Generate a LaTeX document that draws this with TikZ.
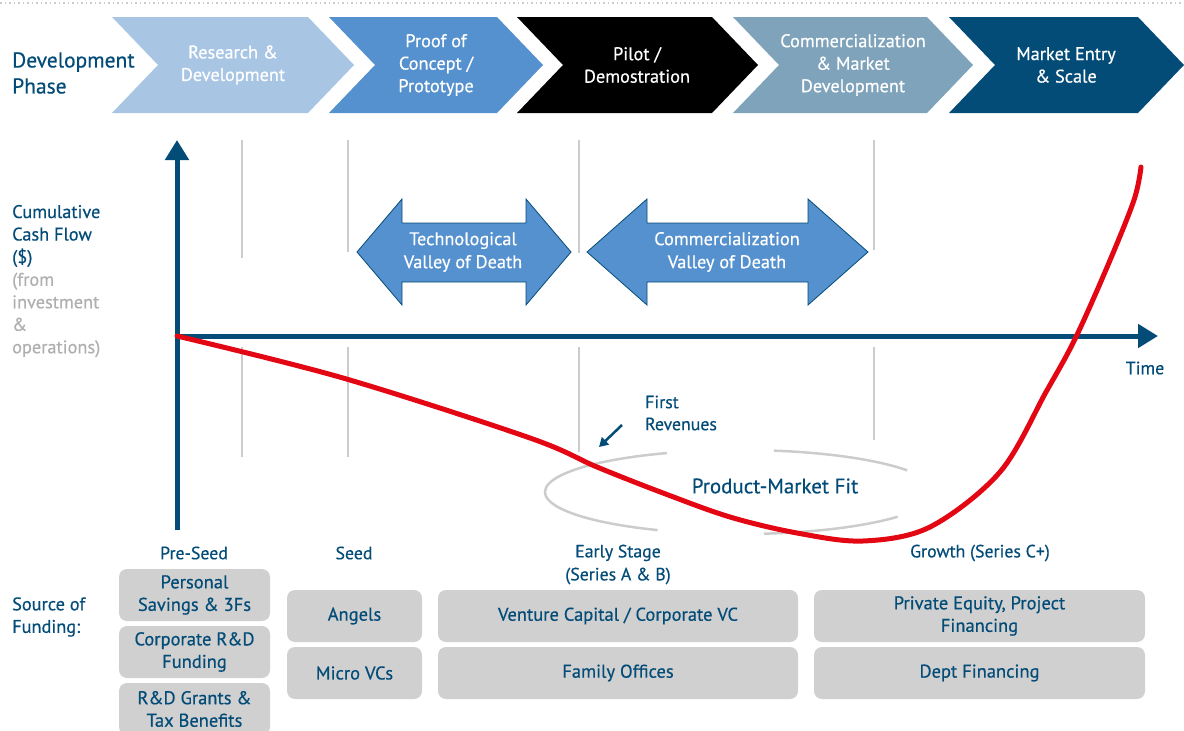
\documentclass[tikz,border=0pt]{standalone}
\usepackage{fontspec}
\setmainfont{PT Sans}[FakeBold=0.5]
\usetikzlibrary{arrows.meta}

\definecolor{navy}{RGB}{4,76,120}
\definecolor{phaseA}{RGB}{168,198,228}
\definecolor{phaseB}{RGB}{85,145,206}
\definecolor{phaseD}{RGB}{127,163,187}
\definecolor{phaseE}{RGB}{4,76,120}
\definecolor{guide}{RGB}{204,204,204}
\definecolor{boxfill}{RGB}{208,208,208}
\definecolor{softtext}{RGB}{175,175,175}
\definecolor{curvered}{RGB}{227,6,19}

\newcommand\chev[3]{%
  \fill[#3] (#1,-17) -- (#2,-17) -- ({#2+46},-65) -- (#2,-113) -- (#1,-113) -- ({#1+46},-65) -- cycle;}

\tikzset{
  phasetext/.style={text=white, align=center, inner sep=0pt,
    font=\fontsize{18.3}{22.5}\selectfont},
  sidelabel/.style={text=navy, align=left, inner sep=0pt, anchor=west,
    font=\fontsize{18.3}{22.5}\selectfont},
  axisline/.style={navy, line width=5pt, -{Triangle[length=20pt,width=23pt]}},
  guideline/.style={guide, line width=2.5pt},
  valley/.style={fill=phaseB, draw=navy, line width=0.8pt, line join=miter},
  valleytext/.style={text=white, align=center, inner sep=0pt,
    font=\fontsize{18.3}{23}\selectfont},
  stagehead/.style={text=navy, align=center, inner sep=0pt,
    font=\fontsize{17.8}{23}\selectfont},
  fundbox/.style={fill=boxfill, rounded corners=8pt, text=navy, align=center,
    inner sep=0pt, font=\fontsize{18.5}{22.5}\selectfont, minimum height=52pt},
  pmfring/.style={guide, line width=2.5pt}
}

\begin{document}
\begin{tikzpicture}[x=1pt,y=1pt]
\useasboundingbox (0,0) rectangle (1184,-731);

% dotted rule along the top
\draw[guide, line width=1.5pt, dash pattern=on 1.5pt off 3pt] (0,-3) -- (1184,-3);

% development phase chevrons
\chev{112}{308}{phaseA}
\chev{329}{497}{phaseB}
\chev{517}{712}{black}
\chev{733}{927}{phaseD}
\chev{949}{1138}{phaseE}
\node[phasetext] (ph1) at (233,-65) {Research \&\\Development};
\node[phasetext] (ph2) at (436,-65) {Proof of\\Concept /\\Prototype};
\node[phasetext] (ph3) at (637,-65) {Pilot /\\Demostration};
\node[phasetext] (ph4) at (853,-65) {Commercialization\\\& Market\\Development};
\node[phasetext] (ph5) at (1066,-65) {Market Entry\\\& Scale};

% row labels
\node[sidelabel, font=\fontsize{21.5}{26}\selectfont] (devphase) at (12,-73) {Development\\Phase};
\node[sidelabel] (cashflow) at (12,-236) {Cumulative\\Cash Flow\\(\$)};
\node[sidelabel, text=softtext] (cashnote) at (12,-315) {(from\\investment\\\&\\operations)};
\node[sidelabel] (source) at (12,-617) {Source of\\Funding:};

% stage guide lines
\foreach \gx/\ta/\tb in {242/258/457, 348/252/457, 579/253/452, 874/250/440}{
  \draw[guideline] (\gx,-140) -- (\gx,-\ta);
  \draw[guideline] (\gx,-347) -- (\gx,-\tb);
}

% axes
\coordinate (origin) at (177,-336);
\coordinate (ybase) at (177,-530);
\coordinate (ytip) at (177,-140);
\coordinate (xtip) at (1158,-336);
\draw[axisline] (ybase) -- (ytip);
\draw[axisline] (origin) -- (xtip);
\node[text=navy, font=\fontsize{18}{20}\selectfont, inner sep=0pt] (time) at (1145,-368) {Time};

% valleys of death
\draw[valley] (357,-252) -- (402,-199) -- (402,-223) -- (526,-223) -- (526,-199)
  -- (571,-252) -- (526,-305) -- (526,-282) -- (402,-282) -- (402,-305) -- cycle;
\node[valleytext] (techvalley) at (463,-252) {Technological\\Valley of Death};
\draw[valley] (587,-252) -- (647,-199) -- (647,-223) -- (808,-223) -- (808,-199)
  -- (868,-252) -- (808,-305) -- (808,-282) -- (647,-282) -- (647,-305) -- cycle;
\node[valleytext] (commvalley) at (727,-252) {Commercialization\\Valley of Death};

% product-market fit ring, open where the label sits
\draw[pmfring] (740,-492) ++(31:195 and 42) arc[start angle=31, end angle=80, x radius=195, y radius=42];
\draw[pmfring] (740,-492) ++(112:195 and 42) arc[start angle=112, end angle=245, x radius=195, y radius=42];
\draw[pmfring] (740,-492) ++(277:195 and 42) arc[start angle=277, end angle=324, x radius=195, y radius=42];
\node[text=navy, font=\fontsize{21}{22}\selectfont, inner sep=0pt] (pmf) at (775,-486) {Product-Market Fit};

% cumulative cash flow curve
\draw[curvered, line width=5pt, line cap=round, line join=round]
  plot[smooth, tension=0.55] coordinates {(177,-336) (343,-378) (530,-438) (597,-467)
  (663,-493) (730,-517) (797,-533) (863,-541) (930,-527) (1000,-472) (1046,-392)
  (1075,-339) (1108,-265) (1134,-200) (1141,-167)};

% first revenues marker
\node[text=navy, align=left, anchor=west, inner sep=0pt,
  font=\fontsize{17.8}{22}\selectfont] (firstrev) at (645,-413) {First\\Revenues};
\coordinate (frtail) at (622,-425);
\coordinate (frhead) at (599,-447);
\draw[navy, line width=2.5pt, -{Triangle[length=9pt,width=10pt]}] (frtail) -- (frhead);

% funding stages
\node[stagehead] (preseed) at (194,-553) {Pre-Seed};
\node[stagehead] (seed) at (354,-553) {Seed};
\node[stagehead] (early) at (618,-564.5) {Early Stage\\(Series A \& B)};
\node[stagehead] (growth) at (980,-553) {Growth (Series C+)};

\node[fundbox, minimum width=151pt] (savings) at (194.5,-595) {Personal\\Savings \& 3Fs};
\node[fundbox, minimum width=151pt] (corprd) at (194.5,-652) {Corporate R\&D\\Funding};
\node[fundbox, minimum width=151pt] (grants) at (194.5,-709) {R\&D Grants \&\\Tax Benefits};

\node[fundbox, minimum width=135pt] (angels) at (354.5,-616) {Angels};
\node[fundbox, minimum width=135pt] (microvc) at (354.5,-673) {Micro VCs};

\node[fundbox, minimum width=360pt] (vc) at (618,-616) {Venture Capital / Corporate VC};
\node[fundbox, minimum width=360pt] (family) at (618,-673) {Family Offices};

\node[fundbox, minimum width=331pt] (pe) at (979.5,-616) {Private Equity, Project\\Financing};
\node[fundbox, minimum width=331pt] (debt) at (979.5,-673) {Dept Financing};
\end{tikzpicture}
\end{document}
